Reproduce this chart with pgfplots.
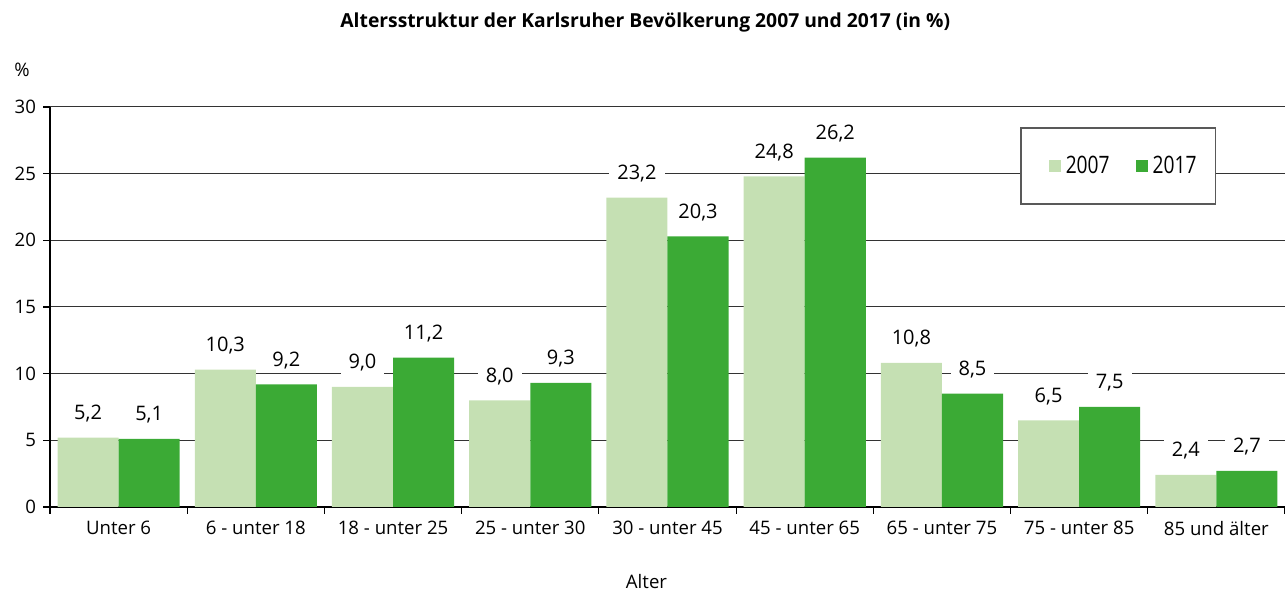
\documentclass[border=0pt]{standalone}
\usepackage{fontspec}
\setmainfont{Open Sans}
\newfontfamily\condfont[FakeStretch=0.8]{Open Sans}
\usepackage{pgfplots}
\pgfplotsset{compat=1.18}
\definecolor{light}{RGB}{197,224,179}
\definecolor{dark}{RGB}{59,170,53}

\begin{document}
\begin{tikzpicture}
\useasboundingbox (0,0) rectangle (642.5pt,296pt);
\begin{axis}[
  at={(25pt,42.5pt)}, anchor=south west,
  scale only axis, width=617.5pt, height=200pt,
  clip=false,
  ybar, bar width=0.445,
  xmin=-0.5, xmax=8.5, ymin=0, ymax=30,
  axis x line*=bottom, axis y line*=left,
  axis line style={-, black, line width=0.6pt},
  xtick={0,...,8},
  xticklabels={Unter 6, 6 - unter 18, 18 - unter 25, 25 - unter 30, 30 - unter 45, 45 - unter 65, 65 - unter 75, 75 - unter 85, 85 und älter},
  major x tick style={draw=none},
  minor xtick={-0.5,0.5,...,8.5},
  minor x tick style={black, line width=0.6pt},
  minor tick length=3.5pt,
  major tick length=3.5pt,
  tick align=outside,
  ytick={0,5,...,30},
  ytick style={black, line width=0.6pt},
  ymajorgrids, major grid style={black!80, line width=0.5pt},
  /pgf/number format/assume math mode=true,
  ticklabel style={font=\fontsize{9.3}{11}\selectfont},
  legend columns=2,
  legend style={at={(0.7854,0.95)}, anchor=north west, draw=black!65, line width=0.8pt,
    font=\condfont\fontsize{12}{14}\selectfont, inner xsep=7.5pt, inner ysep=12pt,
    /tikz/every even column/.append style={column sep=4.5pt}},
  legend image code/.code={\node[inner sep=0pt, minimum size=0pt] at (0pt,0pt) {}; \fill[#1] (6.5pt,-3pt) rectangle (12.5pt,3pt); \node[inner sep=0pt, minimum size=0pt] at (13pt,0pt) {};},
  nodes near coords={\pgfmathprintnumber[fixed,fixed zerofill,precision=1,use comma,assume math mode=true]{\pgfplotspointmeta}},
  every node near coord/.append style={font=\fontsize{10}{12}\selectfont, fill=white, inner xsep=4pt, inner ysep=1pt, anchor=center, yshift=12pt, text=black},
]
\addplot[fill=light, draw=none, bar shift=-0.2225] coordinates {
  (0,5.2) (1,10.3) (2,9.0) (3,8.0) (4,23.2) (5,24.8) (6,10.8) (7,6.5) (8,2.4)};
\addplot[fill=dark, draw=none, bar shift=0.2225] coordinates {
  (0,5.1) (1,9.2) (2,11.2) (3,9.3) (4,20.3) (5,26.2) (6,8.5) (7,7.5) (8,2.7)};
\legend{2007, 2017}
\node[font=\bfseries\fontsize{9.65}{11}\selectfont] at (rel axis cs:0.482,1) [yshift=42.5pt] {Altersstruktur der Karlsruher Bevölkerung 2007 und 2017 (in \%)};
\node[font=\fontsize{9.3}{11}\selectfont] at (rel axis cs:0,1) [xshift=-14pt, yshift=18.5pt] {\%};
\node[font=\fontsize{9.3}{11}\selectfont] at (rel axis cs:0.483,0) [yshift=-37.5pt] {Alter};
\end{axis}
\end{tikzpicture}
\end{document}
